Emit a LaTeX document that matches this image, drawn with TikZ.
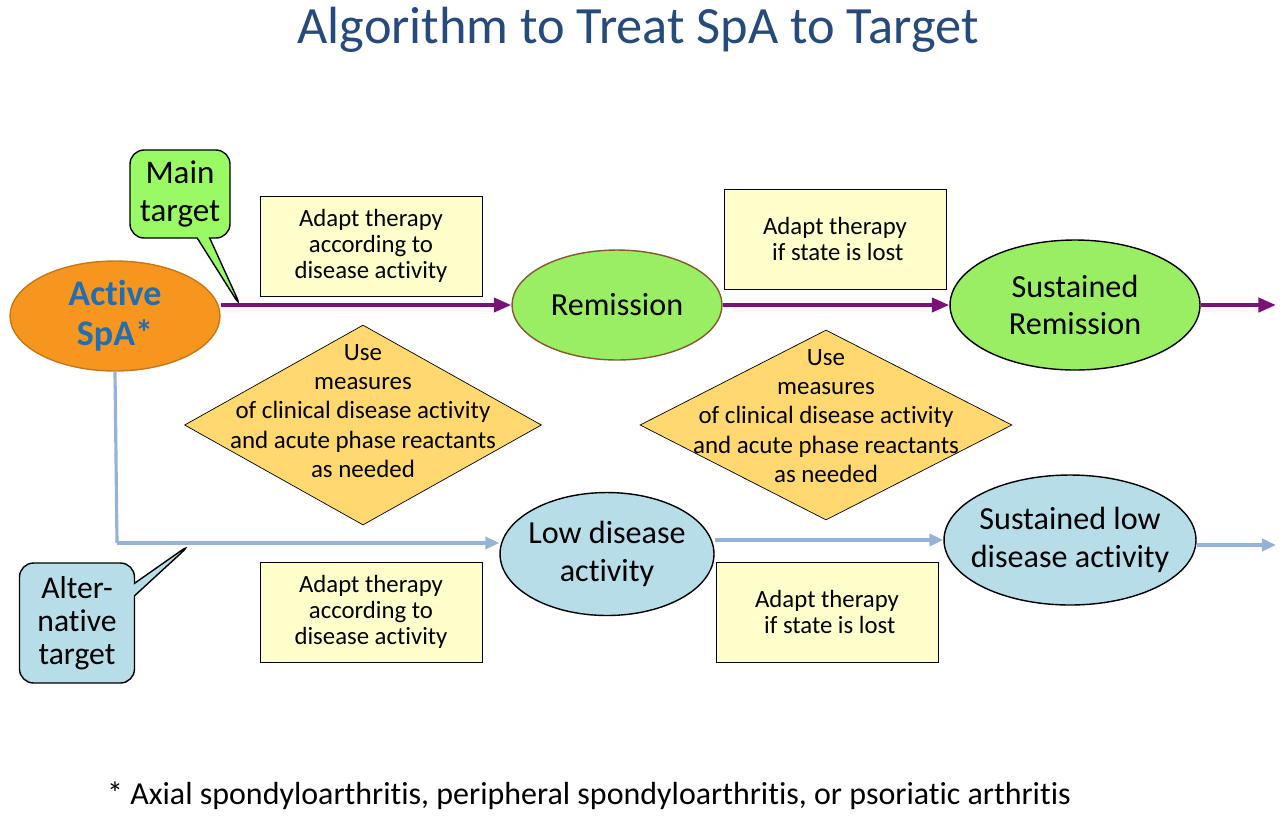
\documentclass[tikz,border=0pt]{standalone}
\usepackage{fontspec}
\setmainfont{Carlito}[Ligatures=NoCommon]
\usetikzlibrary{shapes.geometric,shapes.callouts,arrows.meta}
\definecolor{titleblue}{RGB}{38,74,122}
\definecolor{spaorange}{RGB}{247,150,30}
\definecolor{spatext}{RGB}{35,110,178}
\definecolor{remgreen}{RGB}{153,238,100}
\definecolor{tgtgreen}{RGB}{153,250,102}
\definecolor{lowblue}{RGB}{183,221,232}
\definecolor{boxyellow}{RGB}{255,255,204}
\definecolor{diayellow}{RGB}{255,217,112}
\definecolor{spapurple}{RGB}{122,18,122}
\definecolor{spablue}{RGB}{149,179,215}
\begin{document}
\begin{tikzpicture}
[x=0.02cm, y=-0.02cm,
state/.style={ellipse, draw=black, thick, inner xsep=-0.6cm, inner ysep=-0.2cm, align=center, font=\fontsize{18.3}{21.5}\selectfont},
adapt/.style={rectangle, draw=black, fill=boxyellow, minimum width=4.44cm, minimum height=2cm, align=center, font=\fontsize{14.1}{15}\selectfont},
measure/.style={diamond, draw=black, fill=diayellow, inner sep=0pt},
measuretext/.style={align=center, font=\fontsize{14.2}{16.7}\selectfont},
target/.style={rectangle callout, draw=black, thick, rounded corners=8pt, align=center, inner sep=0pt},
mainline/.style={-{Triangle[length=10pt,width=8pt]}, line width=2.3pt, draw=spapurple},
altline/.style={-{Triangle[length=8pt,width=7pt]}, line width=1.8pt, draw=spablue}]
\useasboundingbox (0,0) rectangle (1280,816);
\node [font=\fontsize{29.8}{34}\selectfont, text=titleblue] (title) at (638,30) {Algorithm to Treat SpA to Target};
% states
\node [state, fill=spaorange, draw=spaorange!80!black, minimum width=4.2cm, minimum height=2.2cm, text=spatext, font=\bfseries\fontsize{20.5}{22.7}\selectfont] (act) at (115,316) {Active\\SpA*};
\node [state, fill=remgreen, draw=brown!70!black, minimum width=4.2cm, minimum height=2.2cm] (rem) at (617,305) {Remission};
\node [state, fill=remgreen, minimum width=5cm, minimum height=2.6cm] (srem) at (1075,305) {Sustained\\Remission};
\node [state, fill=lowblue, minimum width=4.28cm, minimum height=2.46cm] (low) at (607,554) {Low disease\\activity};
\node [state, fill=lowblue, minimum width=5.04cm, minimum height=2.6cm] (slow) at (1070,540) {Sustained low\\disease activity};
% boxes
\node [adapt] (adapt1) at (371,246) {Adapt therapy\\according to\\disease activity};
\node [adapt] (adapt2) at (835,239) {Adapt therapy\\ \ if state is lost};
\node [adapt] (adapt3) at (371,612) {Adapt therapy\\according to\\disease activity};
\node [adapt] (adapt4) at (827,612) {Adapt therapy\\ \ if state is lost};
% diamonds
\node [measure, minimum width=7.14cm, minimum height=4cm] (meas1) at (363,425) {};
\node [measuretext] (meas1txt) at (363,411) {Use\\measures\\of clinical disease activity\\and acute phase reactants\\as needed};
\node [measure, minimum width=7.44cm, minimum height=3.8cm] (meas2) at (826,425) {};
\node [measuretext] (meas2txt) at (826,416) {Use\\measures\\of clinical disease activity\\and acute phase reactants\\as needed};
% connectors
\coordinate (remout) at (1276,305);
\coordinate (bend) at (117,543);
\coordinate (lowout) at (1276,545);
\draw [mainline] (act.east |- rem.west) -- (rem.west);
\draw [mainline] (rem.east) -- (srem.west);
\draw [mainline] (srem.east) -- (remout);
\draw [altline, -] (act.south) -- (bend);
\draw [altline] (bend) -- (bend -| low.west);
\draw [altline] (low.east |- slow.west) -- (slow.west);
\draw [altline] (slow.east |- lowout) -- (lowout);
% targets
\coordinate (mainpt) at (242,309);
\coordinate (altpt) at (192,543);
\node [target, fill=tgtgreen, minimum width=2cm, minimum height=1.76cm, callout absolute pointer={(mainpt)}, font=\fontsize{18.8}{21.5}\selectfont] (maintgt) at (180,194) {Main\\target};
\node [target, fill=lowblue, minimum width=2.3cm, minimum height=2.4cm, callout absolute pointer={(altpt)}, font=\fontsize{18}{18.7}\selectfont] (alttgt) at (77,623) {Alter-\\native\\target};
\node [font=\fontsize{18.2}{20}\selectfont] (note) at (589,796) {* Axial spondyloarthritis, peripheral spondyloarthritis, or psoriatic arthritis};
\end{tikzpicture}
\end{document}
